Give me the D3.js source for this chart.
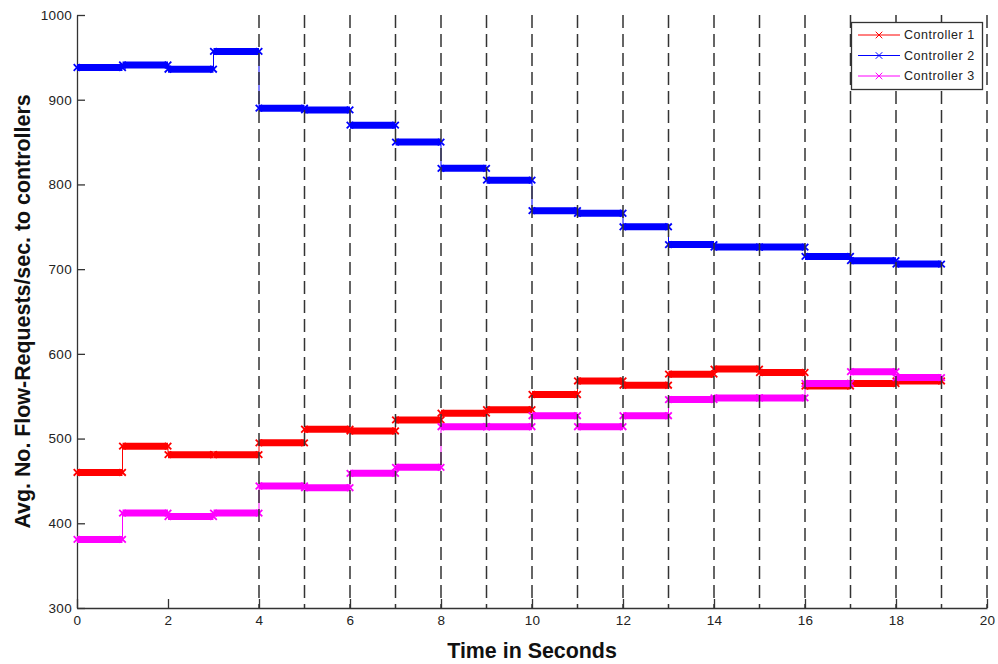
<!DOCTYPE html>
<html>
<head>
<meta charset="utf-8">
<script src="https://cdn.jsdelivr.net/npm/d3@7/dist/d3.min.js"></script>
<style>
  html, body { margin: 0; padding: 0; background: #fff; }
  svg { display: block; font-family: "Liberation Sans", Arial, Helvetica, sans-serif; }
</style>
</head>
<body>
<svg id="chart" width="998" height="664"></svg>
<script>
// Start of each one-second interval (seconds)
const intervalStarts = [0, 1, 2, 3, 4, 5, 6, 7, 8, 9, 10, 11, 12, 13, 14, 15, 16, 17, 18];
// Average flow-requests per second seen by each controller in each interval
const controller1 = [460, 491, 481, 481, 495, 511, 509, 522, 530, 534, 552, 568, 563, 576, 582, 578, 562, 565, 568];
const controller2 = [938, 941, 936, 957, 890, 888, 870, 850, 819, 805, 769, 766, 750, 729, 726, 726, 715, 710, 706];
const controller3 = [381, 412, 408, 412, 444, 442, 459, 466, 514, 514, 527, 514, 527, 546, 548, 548, 565, 579, 572];
const seriesNames = ["Controller 1", "Controller 2", "Controller 3"];
const seriesColors = ["#ff0000", "#0000ff", "#ff00ff"];
// Axis ticks and the dashed marker lines (seconds)
const xTicks = [0, 2, 4, 6, 8, 10, 12, 14, 16, 18, 20];
const yTicks = [300, 400, 500, 600, 700, 800, 900, 1000];
const markerTimes = [4, 5, 6, 7, 8, 9, 10, 11, 12, 13, 14, 15, 16, 17, 18, 19, 20];

const svg = d3.select("#chart");
const plotLeft = 77, plotRight = 987, plotTop = 15, plotBottom = 608;
const x = d3.scaleLinear().domain([0, 20]).range([plotLeft, plotRight]);
const y = d3.scaleLinear().domain([300, 1000]).range([plotBottom, plotTop]);
const axisColor = "#333";

// Axes (ticks point inward, no box)
const xAxis = svg.append("g")
  .attr("transform", `translate(0,${plotBottom})`)
  .call(d3.axisBottom(x).tickValues(xTicks).tickFormat(d3.format("d"))
    .tickSize(-9).tickPadding(7).tickSizeOuter(0));
const yAxis = svg.append("g")
  .attr("transform", `translate(${plotLeft},0)`)
  .call(d3.axisLeft(y).tickValues(yTicks).tickFormat(d3.format("d"))
    .tickSize(-8).tickPadding(5).tickSizeOuter(0));
[xAxis, yAxis].forEach(g => {
  g.select(".domain").attr("stroke", axisColor).attr("stroke-width", 1.3);
  g.selectAll(".tick line").attr("stroke", axisColor).attr("stroke-width", 1.3);
  g.selectAll(".tick text").attr("fill", "#222").style("font-size", "13.5px")
    .style("font-family", "'Liberation Sans', Arial, sans-serif")
    .style("letter-spacing", "0.3px");
});
xAxis.selectAll(".tick text").attr("dy", "0.71em");

const seriesData = [controller1, controller2, controller3].map((vals, i) => ({
  name: seriesNames[i],
  color: seriesColors[i],
  points: intervalStarts.map((t, k) => ({ t0: t, t1: t + 1, v: vals[k] }))
}));

const stepLine = d3.line().x(d => x(d[0])).y(d => y(d[1])).curve(d3.curveStepAfter);
const xMarker = d3.symbol().type(d3.symbolX).size(30);

const gSeries = svg.append("g");
seriesData.forEach(s => {
  const g = gSeries.append("g");
  // thin connectors between consecutive levels
  const pts = s.points.map(p => [p.t0, p.v]);
  const last = s.points[s.points.length - 1];
  pts.push([last.t1, last.v]);
  g.append("path")
    .attr("d", stepLine(pts))
    .attr("fill", "none")
    .attr("stroke", s.color)
    .attr("stroke-width", 1);
  // thick level bars
  g.selectAll("line.level").data(s.points).join("line")
    .attr("class", "level")
    .attr("x1", d => x(d.t0)).attr("x2", d => x(d.t1))
    .attr("y1", d => y(d.v)).attr("y2", d => y(d.v))
    .attr("stroke", s.color)
    .attr("stroke-width", 7);
  // x markers at both ends of each level
  const ends = s.points.flatMap(d => [[d.t0, d.v], [d.t1, d.v]]);
  g.selectAll("path.mk").data(ends).join("path")
    .attr("class", "mk")
    .attr("d", xMarker)
    .attr("transform", d => `translate(${x(d[0])},${y(d[1])})`)
    .attr("fill", "none")
    .attr("stroke", s.color)
    .attr("stroke-width", 1.8);
});

// Dashed vertical marker lines
svg.append("g").selectAll("line").data(markerTimes).join("line")
  .attr("x1", d => x(d)).attr("x2", d => x(d))
  .attr("y1", y(1000)).attr("y2", y(300))
  .attr("stroke", axisColor)
  .attr("stroke-width", 1.5)
  .attr("stroke-dasharray", "13,6");

// Axis titles
svg.append("text")
  .attr("x", (plotLeft + plotRight) / 2).attr("y", 658)
  .attr("text-anchor", "middle")
  .style("font-size", "21.4px").style("font-weight", "bold").attr("fill", "#111")
  .text("Time in Seconds");
svg.append("text")
  .attr("transform", `translate(30,${(plotTop + plotBottom) / 2}) rotate(-90)`)
  .attr("text-anchor", "middle")
  .style("font-size", "21.4px").style("font-weight", "bold").attr("fill", "#111")
  .text("Avg. No. Flow-Requests/sec. to controllers");

// Legend
const legend = svg.append("g");
legend.append("rect")
  .attr("x", 851.5).attr("y", 22.5).attr("width", 131).attr("height", 67)
  .attr("fill", "#fff").attr("stroke", axisColor).attr("stroke-width", 1.3);
seriesData.forEach((s, i) => {
  const ly = 35 + i * 20.5;
  legend.append("line")
    .attr("x1", 858).attr("x2", 900).attr("y1", ly).attr("y2", ly)
    .attr("stroke", s.color).attr("stroke-width", 1);
  legend.append("path")
    .attr("d", d3.symbol().type(d3.symbolX).size(30)())
    .attr("transform", `translate(879,${ly})`)
    .attr("fill", "none").attr("stroke", s.color).attr("stroke-width", 1);
  legend.append("text")
    .attr("x", 904).attr("y", ly).attr("dy", "0.35em")
    .style("font-size", "12.5px").attr("fill", "#222")
    .style("letter-spacing", "0.5px")
    .text(s.name);
});
</script>
</body>
</html>
